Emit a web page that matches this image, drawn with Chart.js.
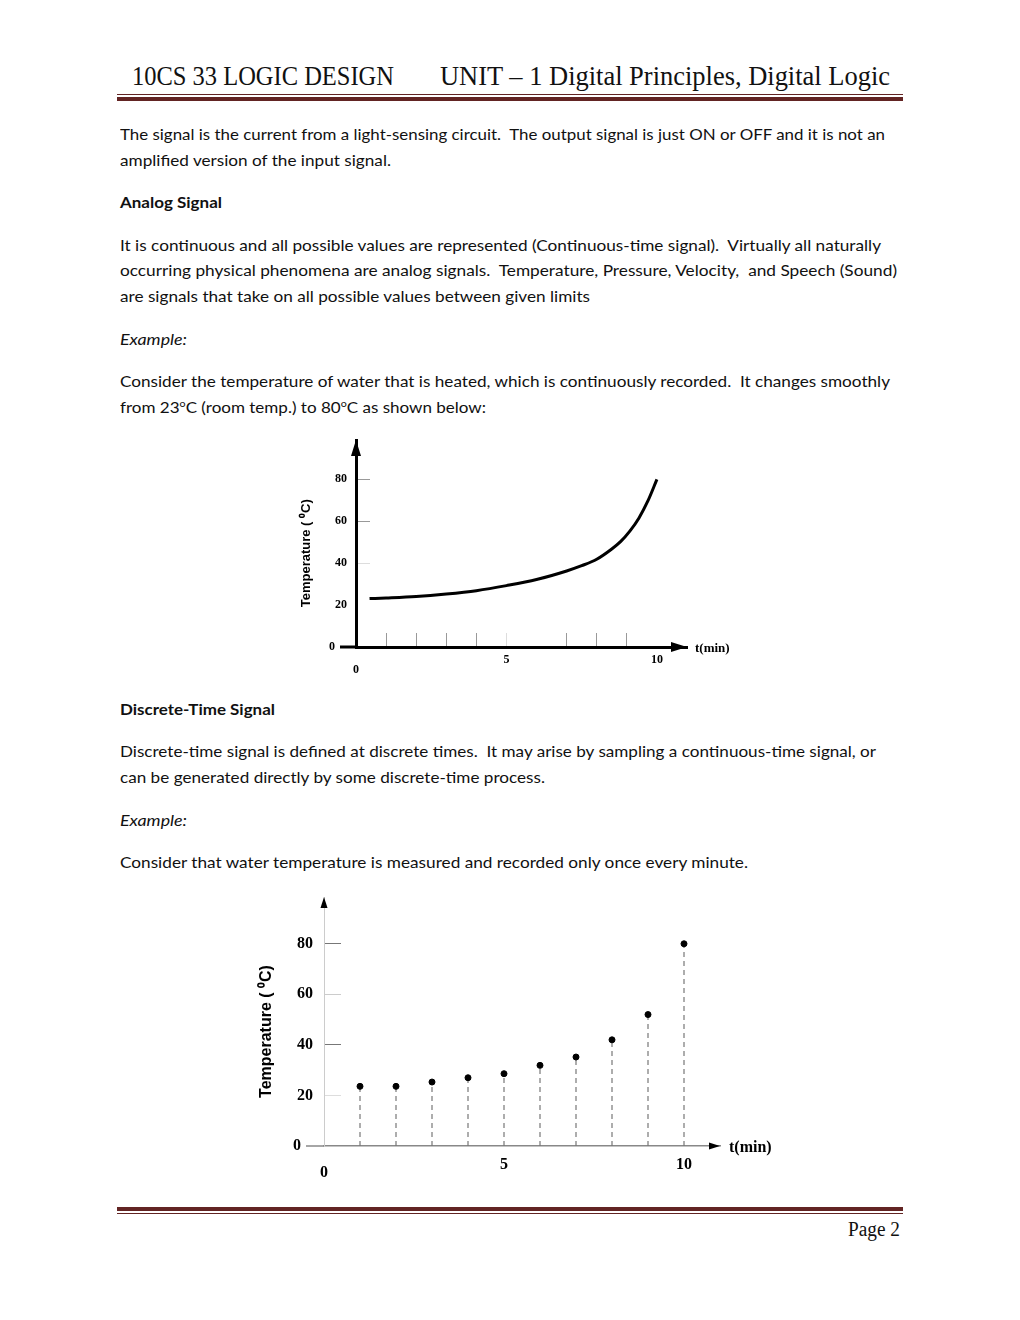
<!DOCTYPE html>
<html>
<head>
<meta charset="utf-8">
<script src="https://cdn.jsdelivr.net/npm/chart.js@4.4.1/dist/chart.umd.min.js"></script>
<style>
  html, body { margin: 0; padding: 0; background: #fff; }
  body { width: 1020px; height: 1320px; position: relative; overflow: hidden; }
  .ln { position: absolute; left: 120px; white-space: pre; font: 16px Lato, "Open Sans", sans-serif; line-height: 20px; color: #111; transform-origin: left center; }
  .ln sup { font-size: 10px; line-height: 0; vertical-align: 6px; }
  .hd { position: absolute; white-space: pre; font: 27px "Liberation Serif", serif; line-height: 30px; color: #111; transform-origin: left center; }
  .rule { position: absolute; left: 117px; width: 786px; background: #622423; }
  .box { position: absolute; }
</style>
</head>
<body>

<div class="hd" style="left:132px; top:61px" data-w="262">10CS 33 LOGIC DESIGN</div>
<div class="hd" style="left:440px; top:61px" data-w="450">UNIT – 1 Digital Principles, Digital Logic</div>
<div class="rule" style="top:94px; height:1px"></div>
<div class="rule" style="top:97px; height:4px"></div>

<div class="ln" style="top:124px" data-w="765">The signal is the current from a light-sensing circuit.  The output signal is just ON or OFF and it is not an</div>
<div class="ln" style="top:150px" data-w="271">amplified version of the input signal.</div>
<div class="ln" style="top:192px; font-weight:bold" data-w="102">Analog Signal</div>
<div class="ln" style="top:235px" data-w="761">It is continuous and all possible values are represented (Continuous-time signal).  Virtually all naturally</div>
<div class="ln" style="top:260px" data-w="777">occurring physical phenomena are analog signals.  Temperature, Pressure, Velocity,  and Speech (Sound)</div>
<div class="ln" style="top:286px" data-w="470">are signals that take on all possible values between given limits</div>
<div class="ln" style="top:329px; font-style:italic" data-w="67">Example:</div>
<div class="ln" style="top:371px" data-w="770">Consider the temperature of water that is heated, which is continuously recorded.  It changes smoothly</div>
<div class="ln" style="top:397px" data-w="366">from 23<sup>o</sup>C (room temp.) to 80<sup>o</sup>C as shown below:</div>

<div class="box" style="left:290px; top:430px; width:460px; height:250px"><canvas id="analogChart"></canvas></div>

<div class="ln" style="top:699px; font-weight:bold" data-w="155">Discrete-Time Signal</div>
<div class="ln" style="top:741px" data-w="756">Discrete-time signal is defined at discrete times.  It may arise by sampling a continuous-time signal, or</div>
<div class="ln" style="top:767px" data-w="425">can be generated directly by some discrete-time process.</div>
<div class="ln" style="top:810px; font-style:italic" data-w="67">Example:</div>
<div class="ln" style="top:852px" data-w="628">Consider that water temperature is measured and recorded only once every minute.</div>

<div class="box" style="left:250px; top:885px; width:540px; height:300px"><canvas id="discreteChart"></canvas></div>

<div class="rule" style="top:1207px; height:4px"></div>
<div class="rule" style="top:1213px; height:1px"></div>
<div class="hd" style="left:848px; top:1216px; font-size:20px; line-height:26px" data-w="52">Page 2</div>

<script>
// continuous curve (time in minutes, temperature in deg C)
const curveTime = [0.45, 1, 2, 3, 4, 5, 6, 7, 7.5, 8, 8.5, 8.8, 9.1, 9.4, 9.7, 10]
const curveTemp = [23.1, 23.4, 24.1, 25.3, 26.9, 29.3, 32.2, 36.3, 38.8, 41.9, 46.8, 50.4, 55.3, 61.5, 69.7, 80]

// one sample per minute, second figure
const sampleTime = [1, 2, 3, 4, 5, 6, 7, 8, 9, 10]
const sampleTemp = [23.6, 23.6, 25.3, 27, 28.6, 31.9, 35.2, 42, 52, 80]

const tempTicks = [0, 20, 40, 60, 80]
const timeTicks = [0, 5, 10]
const yTitle = 'Temperature ( \u2070C)'
const xTitle = 't(min)'

// fit each text line to the width it has on the page
const fitLines = () => {
    document.querySelectorAll('[data-w]').forEach(el => {
        const w = el.getBoundingClientRect().width
        if (w > 0) el.style.transform = `scaleX(${Number(el.dataset.w) / w})`
    })
}

// x axis runs a little left of the y axis, both end in arrow heads, label after the x arrow
const axisArrows = {
    id: 'axisArrows',
    afterDraw(chart, args, opts) {
        const {ctx, chartArea} = chart
        const x0 = chart.scales.x.getPixelForValue(0)
        const y0 = chart.scales.y.getPixelForValue(0)
        ctx.save()
        ctx.strokeStyle = opts.lineColor
        ctx.lineWidth = opts.lineWidth
        ctx.beginPath()
        ctx.moveTo(x0 - opts.ext, y0)
        ctx.lineTo(x0, y0)
        ctx.stroke()

        ctx.fillStyle = '#000'
        const a = opts.arrow
        ctx.beginPath()
        ctx.moveTo(x0, chartArea.top)
        ctx.lineTo(x0 - a.w, chartArea.top + a.l)
        ctx.lineTo(x0 + a.w, chartArea.top + a.l)
        ctx.closePath()
        ctx.fill()
        ctx.beginPath()
        ctx.moveTo(chartArea.right, y0)
        ctx.lineTo(chartArea.right - a.l, y0 - a.w)
        ctx.lineTo(chartArea.right - a.l, y0 + a.w)
        ctx.closePath()
        ctx.fill()

        ctx.font = opts.font
        ctx.textAlign = 'left'
        ctx.textBaseline = 'middle'
        ctx.fillText(xTitle, chartArea.right + opts.gap, y0 + opts.dy)
        ctx.restore()
    }
}

Chart.defaults.font.family = '"Liberation Serif", serif'
Chart.defaults.color = '#000'
Chart.defaults.animation = false

const serifBold = size => ({family: '"Liberation Serif", serif', weight: 'bold', size: size})

const baseOptions = (cfg) => ({
    responsive: true,
    maintainAspectRatio: false,
    layout: {padding: cfg.padding},
    plugins: {
        legend: {display: false},
        tooltip: {enabled: false},
        axisArrows: cfg.arrows
    },
    scales: {
        x: {
            type: 'linear',
            min: 0,
            max: 11,
            afterFit: s => { s.height = cfg.xHeight; s.paddingLeft = 0; s.paddingRight = 0 },
            border: {color: cfg.xBorder, width: cfg.xBorderWidth},
            grid: {
                drawOnChartArea: false,
                drawTicks: cfg.xTickLen !== 0,
                tickLength: cfg.xTickLen,
                color: c => cfg.xTickColor(c.tick ? c.tick.value : -1),
                lineWidth: 1
            },
            ticks: {
                stepSize: 1,
                autoSkip: false,
                maxRotation: 0,
                padding: cfg.xPad,
                font: c => {
                    const f = serifBold(cfg.tickSize)
                    if (c.tick && c.tick.value === 0) f.lineHeight = cfg.zeroLine
                    return f
                },
                callback: v => {
                    if (v > 10) return null
                    if (v === 0) return ['', '0']
                    return timeTicks.includes(v) ? String(v) : ''
                }
            }
        },
        y: {
            min: 0,
            max: cfg.yMax,
            // the big label padding would otherwise push the plot area down
            afterFit: s => { s.width = cfg.yWidth; s.paddingTop = 0; s.paddingBottom = 0 },
            border: {color: cfg.yBorder, width: cfg.yBorderWidth},
            grid: {
                drawOnChartArea: false,
                tickLength: cfg.yTickLen,
                color: c => cfg.yTickColor(c.tick ? c.tick.value : -1),
                lineWidth: 1
            },
            ticks: {
                stepSize: 20,
                padding: cfg.yPad,
                font: serifBold(cfg.tickSize),
                callback: v => {
                    if (!tempTicks.includes(v)) return null
                    return v === 0 ? '0' + cfg.zeroGap : String(v)
                }
            },
            title: {
                display: true,
                text: yTitle + cfg.titleShift,
                font: {family: '"Liberation Sans", Arial, sans-serif', weight: 'bold', size: cfg.titleSize},
                padding: {top: cfg.titlePad, bottom: 0}
            }
        }
    }
})

new Chart(document.getElementById('analogChart'), {
    type: 'line',
    data: {
        datasets: [{
            data: curveTime.map((t, i) => ({x: t, y: curveTemp[i]})),
            borderColor: '#000',
            borderWidth: 3,
            pointRadius: 0,
            cubicInterpolationMode: 'monotone',
            fill: false
        }]
    },
    options: baseOptions({
        padding: {left: 0, top: 10, right: 63, bottom: 0},
        xHeight: 33,
        yWidth: 66,
        yMax: 98.8,
        xBorder: '#000', xBorderWidth: 3,
        yBorder: '#000', yBorderWidth: 3,
        xTickLen: -14,
        xTickColor: v => ([1, 2, 3, 4, 7, 8, 9].includes(v) ? '#999' : v === 5 ? '#ddd' : 'rgba(0,0,0,0)'),
        yTickLen: -14,
        yTickColor: v => (v === 80 || v === 60 ? '#999' : v === 40 ? '#ddd' : 'rgba(0,0,0,0)'),
        xPad: 20,
        yPad: 23,
        tickSize: 12,
        zeroLine: 0.925,
        zeroGap: '\u2003',
        titleSize: 13,
        titlePad: 9,
        titleShift: '\u2002\u2002\u2002',
        arrows: {ext: 16, lineColor: '#000', lineWidth: 3, arrow: {w: 5, l: 16}, font: 'bold 13px "Liberation Serif", serif', gap: 8, dy: 2}
    }),
    plugins: [axisArrows]
})

const stems = sampleTime.map((t, i) => ({
    type: 'line',
    data: [{x: t, y: 0}, {x: t, y: sampleTemp[i]}],
    borderColor: '#777',
    borderWidth: 1.2,
    borderDash: [5, 4],
    pointRadius: 0,
    order: 2
}))

new Chart(document.getElementById('discreteChart'), {
    type: 'scatter',
    data: {
        datasets: [{
            data: sampleTime.map((t, i) => ({x: t, y: sampleTemp[i]})),
            backgroundColor: '#000',
            borderColor: '#000',
            pointRadius: 3,
            order: 1
        }, ...stems]
    },
    options: baseOptions({
        padding: {left: 0, top: 12, right: 70, bottom: 0},
        xHeight: 39,
        yWidth: 74,
        yMax: 98.5,
        xBorder: '#888', xBorderWidth: 1.5,
        yBorder: '#ccc', yBorderWidth: 1,
        xTickLen: 0,
        xTickColor: () => 'rgba(0,0,0,0)',
        yTickLen: -17,
        yTickColor: v => (v === 80 || v === 40 ? '#777' : v === 60 ? '#ccc' : v === 20 ? '#ddd' : 'rgba(0,0,0,0)'),
        xPad: 9,
        yPad: 28,
        tickSize: 16,
        zeroLine: 0.73,
        zeroGap: '\u2002\u2005',
        titleSize: 16,
        titlePad: 7,
        titleShift: '\u2002\u2002\u2005',
        arrows: {ext: 18, lineColor: '#888', lineWidth: 1.5, arrow: {w: 3.5, l: 11}, font: 'bold 16px "Liberation Serif", serif', gap: 9, dy: 2}
    }),
    plugins: [axisArrows]
})

document.fonts.ready.then(fitLines)
</script>
</body>
</html>
